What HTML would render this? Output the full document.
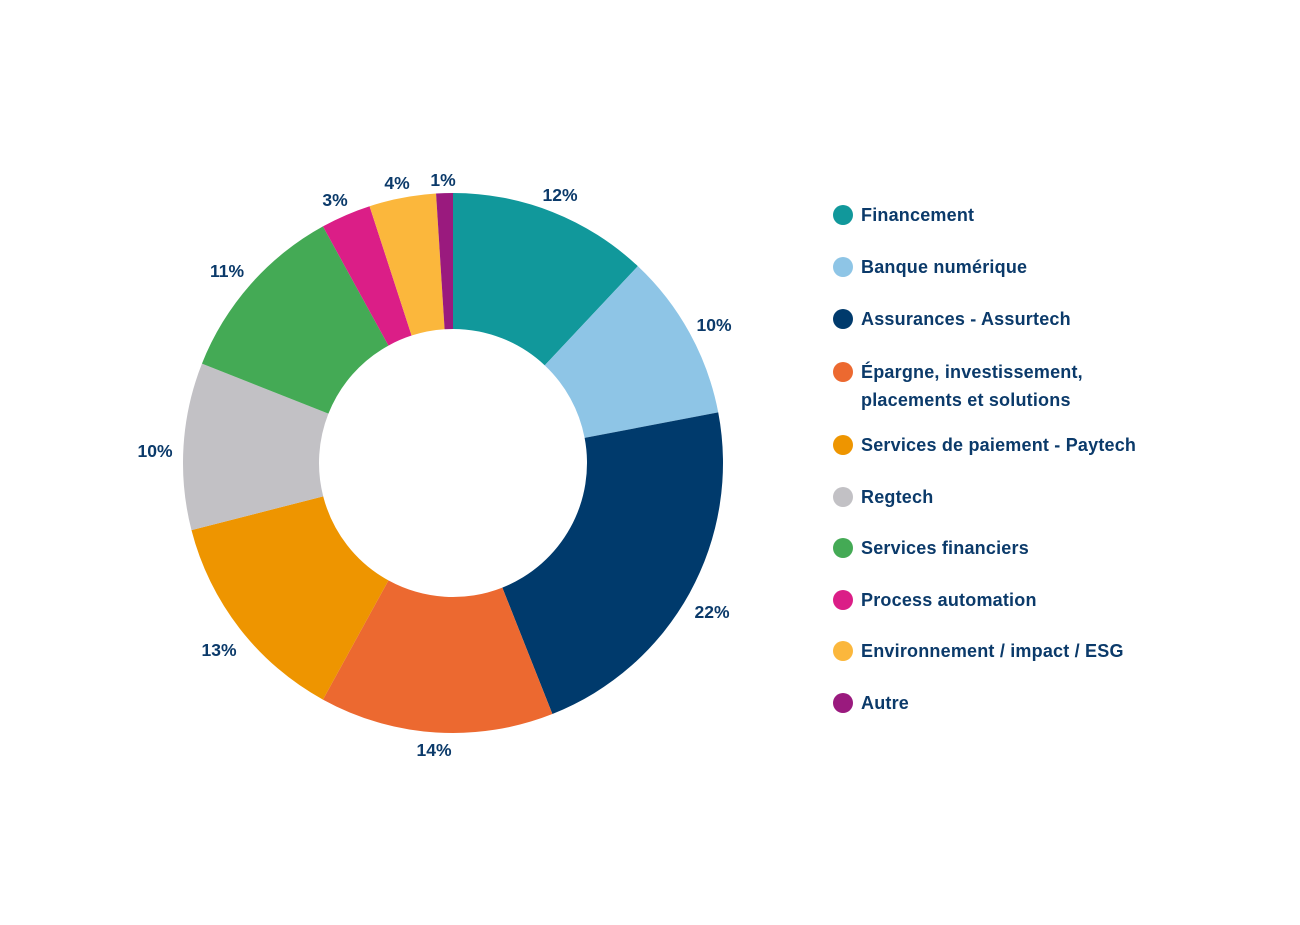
<!DOCTYPE html>
<html><head><meta charset="utf-8"><style>
body{margin:0;background:#fff;width:1300px;height:920px;overflow:hidden;font-family:"Liberation Sans",sans-serif;}
svg text{font-family:"Liberation Sans",sans-serif;font-weight:bold;fill:#0b3a6a;}
</style></head><body>
<svg id="s" width="1300" height="920" xmlns="http://www.w3.org/2000/svg">
<g id="pie"></g>
<g font-size="17.5" text-anchor="middle">
<text x="560" y="201">12%</text>
<text x="714" y="331">10%</text>
<text x="712" y="618">22%</text>
<text x="434" y="756">14%</text>
<text x="219" y="656">13%</text>
<text x="155" y="457">10%</text>
<text x="227" y="277">11%</text>
<text x="335" y="206">3%</text>
<text x="397" y="189">4%</text>
<text x="443" y="186">1%</text>
</g>
<g font-size="18" letter-spacing="0.2">
<circle cx="843" cy="215" r="10" fill="#11989b"/><text x="861" y="221">Financement</text>
<circle cx="843" cy="267" r="10" fill="#8ec5e6"/><text x="861" y="273">Banque numérique</text>
<circle cx="843" cy="319" r="10" fill="#003a6c"/><text x="861" y="325">Assurances - Assurtech</text>
<circle cx="843" cy="372" r="10" fill="#ec6930"/><text x="861" y="378">Épargne, investissement,</text><text x="861" y="406">placements et solutions</text>
<circle cx="843" cy="445" r="10" fill="#ee9500"/><text x="861" y="451">Services de paiement - Paytech</text>
<circle cx="843" cy="497" r="10" fill="#c2c1c5"/><text x="861" y="503">Regtech</text>
<circle cx="843" cy="548" r="10" fill="#44aa55"/><text x="861" y="554">Services financiers</text>
<circle cx="843" cy="600" r="10" fill="#db1e87"/><text x="861" y="606">Process automation</text>
<circle cx="843" cy="651" r="10" fill="#fbb73c"/><text x="861" y="657">Environnement / impact / ESG</text>
<circle cx="843" cy="703" r="10" fill="#9a1a7e"/><text x="861" y="709">Autre</text>
</g>
</svg>
<script>
var v=[12,10,22,14,13,10,11,3,4,1],c=["#11989b","#8ec5e6","#003a6c","#ec6930","#ee9500","#c2c1c5","#44aa55","#db1e87","#fbb73c","#9a1a7e"];
var cx=453,cy=463,R=270,r=134,a=0,h="";
function p(ang,rad){var t=ang/100*2*Math.PI;return [(cx+rad*Math.sin(t)).toFixed(2),(cy-rad*Math.cos(t)).toFixed(2)];}
for(var i=0;i<v.length;i++){var b=a+v[i],l=v[i]>50?1:0,A=p(a,R),B=p(b,R),C=p(b,r),D=p(a,r);
h+='<path fill="'+c[i]+'" d="M'+A+' A'+R+' '+R+' 0 '+l+' 1 '+B+' L'+C+' A'+r+' '+r+' 0 '+l+' 0 '+D+' Z"/>';a=b;}
document.getElementById("pie").innerHTML=h;
</script>
</body></html>
